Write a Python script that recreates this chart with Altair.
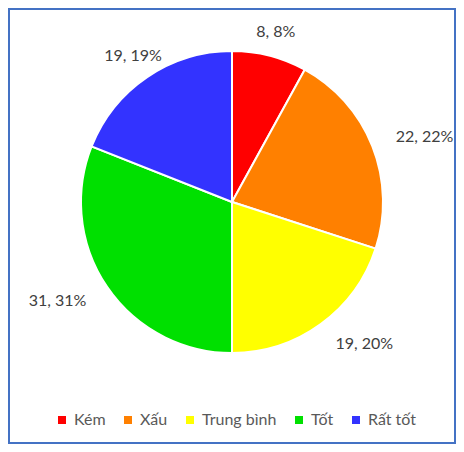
import altair as alt
import pandas as pd

categories = ["Kém", "Xấu", "Trung bình", "Tốt", "Rất tốt"]
counts = [8, 22, 19, 31, 19]
percents = [8, 22, 20, 31, 19]
colors = ["#FF0000", "#FF8000", "#FFFF00", "#00E000", "#3333FF"]

df = pd.DataFrame({
    "cat": categories,
    "count": counts,
    "pct": percents,
    "idx": list(range(len(categories))),
})
df["label"] = [f"{c}, {p}%" for c, p in zip(counts, percents)]

W, H = 448, 436
CY = 194

base = alt.Chart(df).encode(
    theta=alt.Theta("pct:Q", stack=True),
    order=alt.Order("idx:Q"),
)

arcs = base.mark_arc(outerRadius=151, stroke="white", strokeWidth=2, y=CY).encode(
    color=alt.Color(
        "cat:N",
        scale=alt.Scale(domain=categories, range=colors),
        sort=categories,
        legend=alt.Legend(
            title=None,
            orient="none",
            direction="horizontal",
            legendX=46,
            legendY=404,
            padding=0,
            symbolType="square",
            symbolSize=64,
            symbolStrokeWidth=0,
            labelFont="Lato",
            labelFontSize=16,
            labelColor="#595959",
            labelOffset=4,
            columnPadding=14,
        ),
    )
)

align_expr = (
    "datum.mid < 0.15 || datum.mid > 0.85 ? 'center' : "
    "(datum.mid < 0.5 ? 'left' : 'right')"
)

texts = (
    base.transform_joinaggregate(total="sum(pct)")
    .transform_window(cum="sum(pct)", sort=[alt.SortField("idx")], frame=[None, 0])
    .transform_calculate(mid="(datum.cum - datum.pct / 2) / datum.total")
    .mark_text(
        radius=176,
        y=CY,
        font="Lato",
        fontSize=16,
        color="#404040",
        align=alt.expr(align_expr),
    )
    .encode(text="label:N")
)

frame = alt.Chart(pd.DataFrame({"f": [0]})).mark_rect(
    filled=False, stroke="#4472C4", strokeWidth=2
).encode(
    x=alt.value(1), x2=alt.value(W - 1), y=alt.value(1), y2=alt.value(H - 1)
)

chart = (
    alt.layer(frame, arcs, texts)
    .properties(
        width=W,
        height=H,
        padding=0,
        autosize=alt.AutoSizeParams(type="none"),
    )
    .configure_view(stroke=None)
)

chart.save("out.html", embed_options={"renderer": "svg", "actions": False})
